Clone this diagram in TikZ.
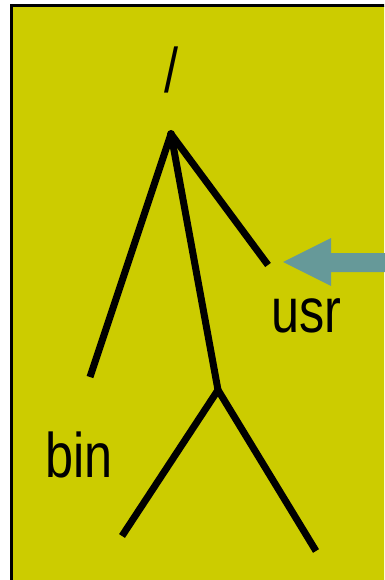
\documentclass[tikz,border=0pt]{standalone}
\usepackage{fontspec}
\setmainfont{Liberation Sans}
\newfontfamily\narrowsans[FakeStretch=0.8]{Liberation Sans}
\definecolor{bgolive}{HTML}{CCCC00}
\definecolor{teal2}{HTML}{669999}
\begin{document}
\begin{tikzpicture}[x=1pt,y=-1pt,
  branch/.style={line width=7pt,line cap=butt,line join=round},
  lbl/.style={inner sep=0pt,anchor=base west,font=\narrowsans\fontsize{63}{70}\selectfont}]
\useasboundingbox (0,0) rectangle (384,580);
\begin{scope}
\clip (0,0) rectangle (384,580);
\draw[fill=bgolive,draw=black,line width=3pt] (11,6) rectangle (420,620);
\end{scope}
% points
\coordinate (root) at (171,134);
\coordinate (binend) at (90,377);
\coordinate (usrend) at (268,265);
\coordinate (mid) at (218,390);
\coordinate (left) at (122,536);
\coordinate (right) at (316,551);
\draw[branch] (binend) -- (root) -- (usrend);
\draw[branch] (root) -- (mid);
\draw[branch] (left) -- (mid) -- (right);
\fill (root) circle (4pt);
% labels
\node[lbl] (slash) at (164,93) {/};
\node[lbl] (usr) at (271,332) {usr};
\node[lbl] (bin) at (45,477) {bin};
% arrow
\coordinate (tip) at (283,262);
\fill[teal2] (tip) -- (331,238) -- (331,253) -- (390,253) -- (390,272) -- (331,272) -- (331,286) -- cycle;
\end{tikzpicture}
\end{document}
